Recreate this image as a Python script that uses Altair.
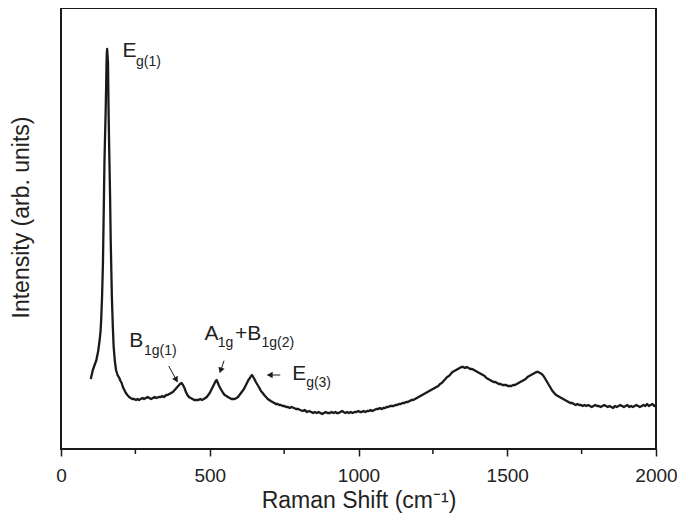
import altair as alt
import pandas as pd

FONT = "Liberation Sans"
INK = "#1a1a1a"

# ---- spectrum: (Raman shift cm-1, intensity arb. units) ----
seg_eg1 = [(100, 70), (104, 75), (107, 79), (113, 84), (119, 89), (125, 98), (130, 109), (133, 118),
           (135, 129), (138, 152), (141, 186), (143, 225), (146, 286), (148, 312), (150, 336), (152, 366),
           (153, 386), (154, 396), (155, 400), (156, 396), (158, 386), (160, 336), (162, 300), (165, 252),
           (167, 210), (171, 152), (174, 124), (177, 102), (181, 88), (185, 79), (190, 74), (196, 71),
           (200, 68), (204, 66), (208, 62), (213, 59), (218, 56), (223, 54), (229, 52), (234, 51)]
seg_low = [(240, 50), (246, 50), (252, 49), (257, 50), (262, 49), (268, 50), (274, 51), (279, 50),
           (285, 51), (291, 52), (297, 51), (303, 50), (309, 51), (315, 52), (321, 51), (329, 52),
           (335, 52), (341, 53), (347, 52), (353, 54), (358, 54), (364, 55), (370, 56), (376, 57),
           (382, 59), (388, 61), (394, 63), (400, 65), (405, 66), (410, 64), (415, 61), (420, 57),
           (425, 54), (430, 52), (436, 51), (442, 50), (448, 49), (455, 49), (462, 49), (468, 50),
           (474, 49), (480, 50), (485, 51), (490, 52), (495, 54), (500, 56), (505, 59), (510, 62),
           (515, 65), (520, 68), (523, 69), (526, 67), (530, 64), (535, 61), (539, 59), (545, 56),
           (550, 54), (556, 53), (561, 52), (567, 51), (573, 50), (579, 50), (584, 50), (590, 51),
           (595, 52), (600, 54), (605, 56), (610, 58), (615, 60), (620, 63), (625, 66), (630, 69),
           (635, 71), (639, 73), (642, 74), (646, 72), (650, 70), (655, 67), (661, 64), (667, 61),
           (672, 58), (678, 56), (683, 54), (689, 52), (695, 50), (700, 49), (705, 48), (711, 47)]
seg_mid = [(717, 46), (722, 45), (728, 45), (734, 44), (739, 44), (745, 43), (751, 43), (757, 42),
           (763, 42), (769, 41), (775, 42), (783, 41), (790, 40), (797, 40), (804, 39), (812, 38),
           (819, 39), (827, 37), (834, 38), (841, 37), (847, 36), (853, 37), (860, 36), (866, 37),
           (872, 36), (878, 35), (884, 36), (890, 37), (896, 36), (904, 36), (910, 37), (916, 36),
           (922, 37), (927, 36), (933, 36), (939, 37), (945, 38), (950, 37), (956, 36), (962, 37),
           (968, 36), (974, 37), (980, 36), (987, 37), (993, 37), (999, 38), (1005, 37), (1011, 37),
           (1017, 38), (1023, 37), (1029, 38), (1035, 38), (1041, 39), (1047, 38), (1053, 39), (1060, 40),
           (1066, 40), (1072, 41), (1078, 40), (1083, 41), (1089, 41), (1095, 42), (1100, 42), (1106, 43),
           (1112, 43), (1118, 43), (1124, 44), (1130, 44), (1136, 45), (1142, 45), (1148, 46), (1154, 46),
           (1160, 47), (1166, 47), (1172, 48), (1178, 49), (1184, 49), (1190, 50), (1196, 51), (1202, 52)]
seg_dg = [(1208, 53), (1214, 54), (1220, 55), (1226, 56), (1232, 57), (1238, 58), (1244, 59), (1250, 60),
          (1256, 61), (1262, 62), (1268, 63), (1274, 65), (1280, 66), (1286, 68), (1292, 70), (1298, 72),
          (1304, 73), (1310, 75), (1316, 77), (1322, 78), (1328, 79), (1334, 80), (1340, 81), (1346, 82),
          (1352, 82), (1358, 81), (1364, 82), (1370, 81), (1376, 80), (1382, 80), (1388, 79), (1394, 78),
          (1400, 77), (1406, 76), (1412, 75), (1418, 74), (1424, 73), (1430, 71), (1436, 70), (1442, 69),
          (1448, 68), (1454, 67), (1460, 67), (1466, 66), (1472, 65), (1478, 65), (1484, 64), (1490, 64),
          (1496, 64), (1502, 63), (1508, 63), (1514, 63), (1520, 64), (1526, 64), (1532, 65), (1538, 66),
          (1544, 67), (1550, 68), (1556, 69), (1562, 70), (1568, 72), (1574, 73), (1580, 74), (1586, 75),
          (1592, 76), (1598, 77), (1604, 77), (1610, 76), (1616, 75), (1622, 73), (1628, 70), (1634, 67),
          (1640, 64), (1646, 61), (1652, 58), (1658, 56), (1664, 54), (1670, 53), (1676, 52), (1682, 51)]
seg_tail = [(1688, 50), (1694, 49), (1700, 48), (1706, 47), (1712, 46), (1718, 46), (1724, 45), (1730, 44),
            (1736, 45), (1742, 44), (1748, 44), (1754, 43), (1760, 44), (1766, 43), (1772, 44), (1778, 43),
            (1784, 42), (1790, 43), (1796, 44), (1802, 43), (1808, 43), (1814, 42), (1820, 43), (1826, 44),
            (1832, 43), (1838, 42), (1844, 43), (1850, 42), (1856, 41), (1862, 43), (1868, 42), (1874, 43),
            (1880, 44), (1886, 43), (1892, 42), (1898, 43), (1904, 44), (1910, 42), (1916, 43), (1922, 42),
            (1928, 43), (1934, 44), (1940, 43), (1946, 42), (1952, 43), (1958, 44), (1964, 43), (1970, 45),
            (1976, 43), (1982, 44), (1988, 45), (1994, 43), (2000, 44)]

# ---- axis ticks ----
major_ticks = [0, 500, 1000, 1500, 2000]
minor_ticks = [250, 750, 1250, 1750]

# ---- peak labels (main symbol + subscript) ----
lab_main = ["E", "B", "A", "+B", "E"]
lab_main_x = [207, 229, 482, 585, 777]
lab_main_y = [392, 101.7, 109.5, 109.5, 69]
lab_sub = ["g(1)", "1g(1)", "1g", "1g(2)", "g(3)"]
lab_sub_x = [252, 279, 527, 674, 824]
lab_sub_y = [383, 94, 102, 102, 62]

# ---- arrows ----
arr_x = [362, 548, 737]
arr_y = [83, 88.3, 74]
arr_x2 = [391, 535, 694]
arr_y2 = [67.3, 76.7, 74]
head_x = [386, 537.5, 705]
head_y = [70, 79.5, 74]
head_angle = [151, 199, 270]

spectrum = seg_eg1 + seg_low + seg_mid + seg_dg + seg_tail
df = pd.DataFrame(spectrum, columns=["shift", "I"])
df_minor = pd.DataFrame({"shift": minor_ticks})
df_main = pd.DataFrame({"shift": lab_main_x, "I": lab_main_y, "label": lab_main})
df_sub = pd.DataFrame({"shift": lab_sub_x, "I": lab_sub_y, "label": lab_sub})
df_arr = pd.DataFrame({"shift": arr_x, "I": arr_y, "shift2": arr_x2, "I2": arr_y2})
df_head = pd.DataFrame({"shift": head_x, "I": head_y, "ang": head_angle})

xs = alt.Scale(domain=[0, 2000], nice=False, zero=False)
ys = alt.Scale(domain=[0, 441], nice=False, zero=False)

x_axis = alt.Axis(values=major_ticks, format="d", title="Raman Shift (cm⁻¹)", domain=False, grid=False,
                  tickSize=7, tickWidth=1.5, tickColor=INK, labelFontSize=19, labelColor="#222",
                  labelFont=FONT, labelPadding=10, labelFlush=False, labelOverlap=False,
                  titleFont=FONT, titleFontSize=23, titleFontWeight="normal", titleColor="#222",
                  titleBaseline="alphabetic", titleY=58)
y_axis = alt.Axis(title="Intensity (arb. units)", labels=False, ticks=False, domain=False, grid=False,
                  titleFont=FONT, titleFontSize=23, titleFontWeight="normal", titleColor="#222",
                  titleAngle=270, titleAlign="center", titleBaseline="alphabetic",
                  titleX=-33, titleY=209)

X = alt.X("shift:Q", scale=xs, axis=x_axis)
Y = alt.Y("I:Q", scale=ys, axis=y_axis)

line = alt.Chart(df).mark_line(color=INK, strokeWidth=2.3, strokeJoin="round").encode(x=X, y=Y)

minor = alt.Chart(df_minor).mark_rule(color=INK, strokeWidth=1.5).encode(
    x=X, y=alt.value(441), y2=alt.value(446))

main_txt = alt.Chart(df_main).mark_text(align="left", baseline="alphabetic", font=FONT,
                                        fontSize=21, color="#222").encode(x=X, y=Y, text="label:N")
sub_txt = alt.Chart(df_sub).mark_text(align="left", baseline="alphabetic", font=FONT,
                                      fontSize=14, color="#222").encode(
    x=X, y=Y, text="label:N")

arrows = alt.Chart(df_arr).mark_rule(color=INK, strokeWidth=1).encode(
    x=X, y=Y, x2="shift2:Q", y2="I2:Q")
heads = alt.Chart(df_head).mark_point(shape="triangle", filled=True, size=42, color=INK,
                                      opacity=1).encode(
    x=X, y=Y, angle=alt.Angle("ang:Q", scale=None))

chart = alt.layer(line, minor, arrows, heads, main_txt, sub_txt).properties(
    width=595, height=441,
    autosize=alt.AutoSizeParams(type="none"),
    padding={"left": 53, "top": 0, "right": 21, "bottom": 66},
    background="white",
).configure_view(stroke=INK, strokeWidth=2)

chart.save("out.html", embed_options={"renderer": "svg", "actions": False})
